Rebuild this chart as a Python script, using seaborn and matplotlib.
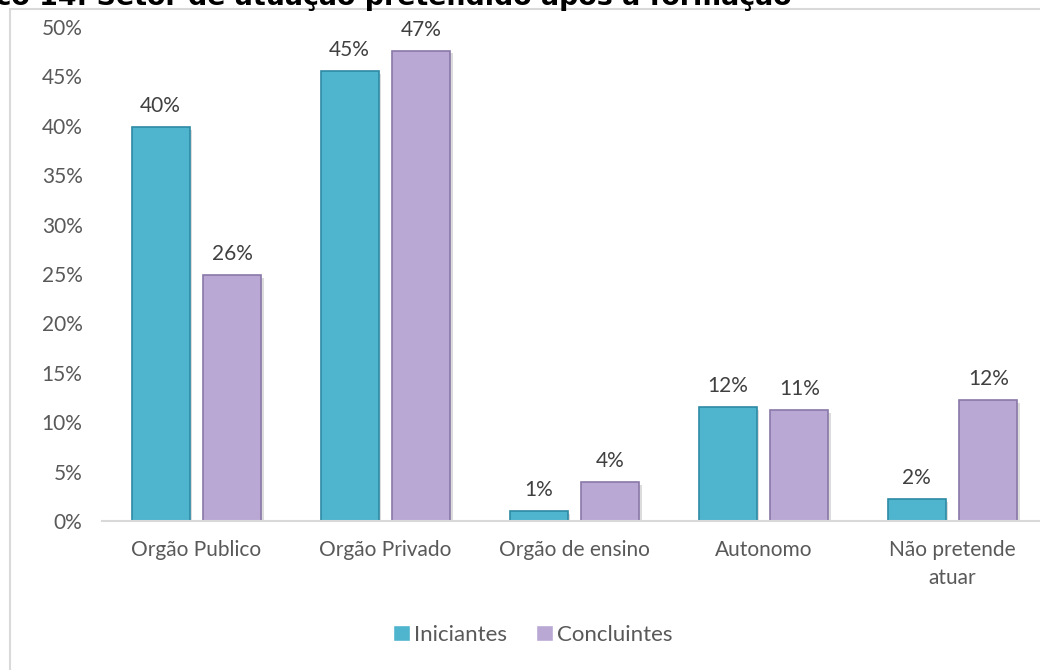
import matplotlib
matplotlib.use("Agg")
import matplotlib.pyplot as plt
import matplotlib.patheffects as pe
from matplotlib.patches import Rectangle
import seaborn as sns
import pandas as pd

sns.set_theme(style="white")
plt.rcParams['font.family'] = ['Lato', 'DejaVu Sans']

categorias = ['Orgão Publico', 'Orgão Privado', 'Orgão de ensino', 'Autonomo', 'Não pretende\natuar']
iniciantes = [0.399, 0.455, 0.010, 0.115, 0.022]
concluintes = [0.249, 0.476, 0.039, 0.112, 0.122]
rot_iniciantes = ['40%', '45%', '1%', '12%', '2%']
rot_concluintes = ['26%', '47%', '4%', '11%', '12%']
y_ticks = [0, 0.05, 0.10, 0.15, 0.20, 0.25, 0.30, 0.35, 0.40, 0.45, 0.50]
titulo = 'Gráfico 14: Setor de atuação pretendido após a formação'

df = pd.DataFrame({
    'setor': categorias * 2,
    'valor': iniciantes + concluintes,
    'grupo': ['Iniciantes'] * 5 + ['Concluintes'] * 5,
})

cinza = '#595959'
cores = {'Iniciantes': '#4FB4CE', 'Concluintes': '#B9A8D4'}
bordas = ['#2E8AA4', '#8A78A8']

fig = plt.figure(figsize=(10.4, 6.7), dpi=100)
ax = fig.add_axes([102 / 1040, 1 - 521 / 670, 945 / 1040, (521 - 27) / 670])

sns.barplot(data=df, x='setor', y='valor', hue='grupo', palette=cores, saturation=1,
            width=0.76, gap=0.19, ax=ax, legend=True)

for cont, borda, rot in zip(ax.containers, bordas, [rot_iniciantes, rot_concluintes]):
    for p in cont:
        p.set_edgecolor(borda)
        p.set_linewidth(1.2)
        p.set_path_effects([pe.SimplePatchShadow(offset=(2, -2), shadow_rgbFace='#BBBBBB', alpha=0.5), pe.Normal()])
    ax.bar_label(cont, labels=rot, padding=8, fontsize=15, color='#404040')

ax.set_ylim(0, 0.5)
ax.set_xlim(-0.5, 4.5)
ax.set_yticks(y_ticks)
ax.set_yticklabels([f'{int(round(t * 100))}%' for t in y_ticks])
ax.set_xlabel('')
ax.set_ylabel('')
ax.tick_params(axis='y', length=0, pad=14, labelsize=15, labelcolor=cinza)
ax.tick_params(axis='x', length=0, pad=14, labelsize=15, labelcolor=cinza)
for t in ax.get_xticklabels():
    t.set_linespacing(1.45)
for s in ['left', 'right', 'top']:
    ax.spines[s].set_visible(False)
ax.spines['bottom'].set_color('#D9D9D9')
ax.spines['bottom'].set_linewidth(1.5)

handles, labels = ax.get_legend_handles_labels()
ax.get_legend().remove()
leg = fig.legend(handles, labels, loc='center', bbox_to_anchor=(533 / 1040, 1 - 635 / 670),
                 ncol=2, frameon=False, fontsize=16, handlelength=0.75, handleheight=0.75,
                 handletextpad=0.2, columnspacing=1.3)
for t in leg.get_texts():
    t.set_color(cinza)

fig.patches.append(Rectangle((10 / 1040, -0.1), 1.1, 1.1 - 9 / 670, transform=fig.transFigure,
                             fill=False, edgecolor='#D9D9D9', linewidth=1.5, zorder=0))

fig.text(792 / 1040, 1 - 5 / 670, titulo, ha='right', va='baseline', fontsize=19.4,
         fontweight='bold', family=['DejaVu Sans'], color='black')

fig.savefig('out.png', dpi=100)
